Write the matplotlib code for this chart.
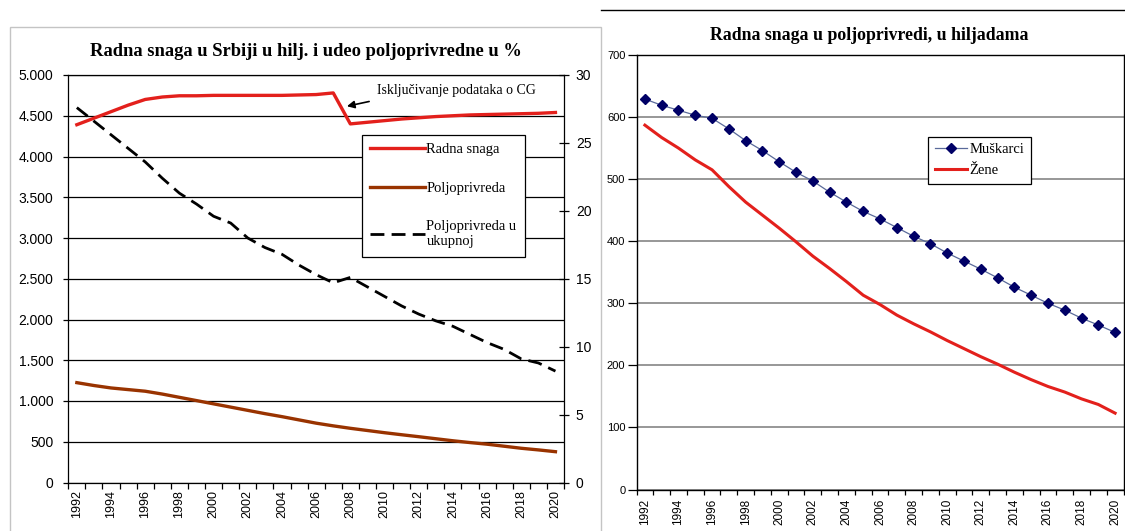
import numpy as np
import matplotlib
matplotlib.use("Agg")
import matplotlib.pyplot as plt
from matplotlib.patches import Rectangle
from matplotlib.lines import Line2D
from matplotlib.ticker import FuncFormatter

# ---- data -------------------------------------------------------------
years = list(range(1992, 2021))
year_labels = [str(y) for y in years[::2]]

radna_snaga = [4390, 4470, 4550, 4630, 4700, 4730, 4745, 4745, 4750, 4750,
               4750, 4750, 4750, 4755, 4760, 4780, 4400, 4420, 4440, 4460,
               4475, 4490, 4500, 4510, 4515, 4520, 4525, 4530, 4540]
poljoprivreda = [1225, 1190, 1160, 1140, 1120, 1085, 1045, 1005, 965, 925,
                 885, 845, 808, 768, 728, 695, 665, 638, 611, 586,
                 562, 537, 512, 490, 470, 445, 420, 400, 378]
udeo_poljoprivrede = [27.6, 26.6, 25.6, 24.6, 23.6, 22.4, 21.3, 20.5, 19.6, 19.1,
                      18.0, 17.3, 16.8, 16.0, 15.3, 14.7, 15.1, 14.4, 13.7, 13.0,
                      12.4, 11.9, 11.5, 10.9, 10.3, 9.8, 9.1, 8.8, 8.2]

muskarci = [629, 619, 611, 603, 598, 581, 562, 546, 528, 511,
            497, 479, 463, 448, 436, 422, 408, 396, 381, 368,
            355, 341, 326, 313, 300, 289, 276, 265, 253]
zene = [587, 567, 550, 531, 515, 488, 463, 442, 421, 399,
        376, 356, 335, 313, 298, 281, 267, 254, 240, 227,
        214, 202, 189, 177, 166, 157, 146, 137, 123]

W, H = 1125, 531
SANS = ["Liberation Sans", "DejaVu Sans"]
SERIF = ["Liberation Serif", "DejaVu Serif"]
plt.rcParams["font.family"] = SANS

fig = plt.figure(figsize=(W / 100, H / 100), dpi=100)
fig.patch.set_facecolor("white")


def fx(px):
    return px / W


def fy(py):
    return 1 - py / H


def category_axis(ax, labelsize, ticklen, pad):
    n = len(years)
    x = np.arange(n)
    ax.set_xlim(-0.5, n - 0.5)
    ax.set_xticks(np.arange(-0.5, n, 1.0))
    ax.set_xticklabels([])
    ax.set_xticks(x[::2], minor=True)
    ax.set_xticklabels(year_labels, minor=True, rotation=90,
                       fontsize=labelsize, family=SANS)
    ax.tick_params(axis="x", which="major", direction="out", length=ticklen,
                   width=0.9, color="black")
    ax.tick_params(axis="x", which="minor", length=0, pad=pad)
    return x


# ---- panel frames ------------------------------------------------------
fig.add_artist(Rectangle((fx(10), -0.05), fx(600.7) - fx(10), fy(27) + 0.05,
                         transform=fig.transFigure, fill=False,
                         edgecolor="#c4c4c4", lw=1.0))
fig.add_artist(Line2D([fx(600.7), 1.0], [fy(10), fy(10)],
                      transform=fig.transFigure, color="black", lw=1.0))

# ---- left chart: labour force and agriculture share --------------------
ax1 = fig.add_axes([fx(68.3), fy(482.5), fx(564) - fx(68.3), fy(75) - fy(482.5)])
x = category_axis(ax1, 9, 4.3, 5.5)
ax1.set_ylim(0, 5000)
ax1.set_yticks(np.arange(0, 5001, 500))
ax1.yaxis.set_major_formatter(FuncFormatter(lambda v, p: f"{int(v):,}".replace(",", ".")))
ax1.tick_params(axis="y", direction="out", length=3.6, width=0.9, labelsize=10, pad=7)
ax1.yaxis.grid(True, color="black", lw=0.9)
ax1.set_axisbelow(True)
for s in ax1.spines.values():
    s.set_color("black")
    s.set_linewidth(0.9)

l1, = ax1.plot(x, radna_snaga, color="#e3201c", lw=2.4, label="Radna snaga",
               solid_joinstyle="round")
l2, = ax1.plot(x, poljoprivreda, color="#993300", lw=2.4, label="Poljoprivreda")

ax2 = ax1.twinx()
ax2.set_ylim(0, 30)
ax2.set_yticks(np.arange(0, 31, 5))
ax2.tick_params(axis="y", direction="inout", length=7, width=0.9, labelsize=10, pad=5)
for s in ax2.spines.values():
    s.set_visible(False)
l3, = ax2.plot(x, udeo_poljoprivrede, color="black", lw=2.0,
               ls=(0, (5, 2.6)), label="Poljoprivreda u\nukupnoj")

leg1 = ax2.legend(handles=[l1, l2, l3], loc="upper left",
                  bbox_to_anchor=(fx(361.6), fy(135)), bbox_transform=fig.transFigure,
                  prop={"family": SERIF, "size": 10.5}, frameon=True, fancybox=False,
                  edgecolor="black", framealpha=1, handlelength=3.8, handletextpad=0.1,
                  labelspacing=1.75, borderpad=0.55, borderaxespad=0)
leg1.get_frame().set_linewidth(0.9)

# note on the break in the series (Montenegro excluded from 2008)
ax2.text(17.55, 28.85, "Isključivanje podataka o CG", family=SERIF, fontsize=10,
         va="center", ha="left")
ax2.annotate("", xy=(15.8, 27.7), xytext=(17.1, 28.05),
             arrowprops=dict(arrowstyle="-|>", color="black", lw=1.2,
                             mutation_scale=11, shrinkA=0, shrinkB=0))

fig.text(fx(306), fy(52), "Radna snaga u Srbiji u hilj. i udeo poljoprivredne u %",
         family=SERIF, fontsize=13.3, fontweight="bold", ha="center", va="center")

# ---- right chart: agricultural labour by sex ----------------------------
ax3 = fig.add_axes([fx(636.5), fy(489.5), fx(1123.5) - fx(636.5), fy(55) - fy(489.5)])
x = category_axis(ax3, 8.5, 3.6, 6.5)
ax3.set_ylim(0, 700)
ax3.set_yticks(np.arange(0, 701, 100))
ax3.tick_params(axis="y", direction="out", length=6.5, width=0.9, labelsize=8, pad=1.5)
ax3.yaxis.grid(True, color="#7a7a7a", lw=1.1)
ax3.set_axisbelow(True)
for s in ax3.spines.values():
    s.set_color("black")
    s.set_linewidth(1.0)

m1, = ax3.plot(x, muskarci, color="#5a6a9a", lw=0.9, marker="D", markersize=5,
               markerfacecolor="#000066", markeredgecolor="#000066", label="Muškarci")
m2, = ax3.plot(x, zene, color="#e3201c", lw=2.2, label="Žene")

leg2 = ax3.legend(handles=[m1, m2], loc="upper left",
                  bbox_to_anchor=(fx(928), fy(136.7)), bbox_transform=fig.transFigure,
                  prop={"family": SERIF, "size": 10.5}, frameon=True, fancybox=False,
                  edgecolor="black", framealpha=1, handlelength=2.2, handletextpad=0.2,
                  labelspacing=0.5, borderpad=0.45, borderaxespad=0)
leg2.get_frame().set_linewidth(0.9)

fig.text(fx(869), fy(35), "Radna snaga u poljoprivredi, u hiljadama",
         family=SERIF, fontsize=12.8, fontweight="bold", ha="center", va="center")

fig.savefig("out.png", dpi=100, facecolor="white")
